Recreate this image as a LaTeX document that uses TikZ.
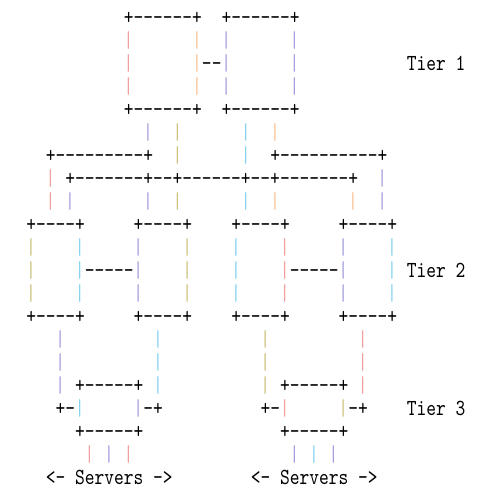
\documentclass[tikz,border=0pt]{standalone}
\usepackage{fontspec}
\newfontfamily\asciifont{lmmono10-regular.otf}[FakeStretch=0.808]
\tikzstyle{glyph}=[font=\asciifont\fontsize{23}{23}\selectfont, inner sep=0pt, anchor=west, text height=14pt, text depth=0pt]
\tikzstyle{pipe}=[font=\asciifont\fontsize{23}{23}\selectfont, inner sep=0pt, anchor=center, text height=14.1pt, text depth=0pt]
\definecolor{pipepink}{RGB}{240,160,160}
\definecolor{pipeorange}{RGB}{250,195,150}
\definecolor{pipelilac}{RGB}{165,160,220}
\definecolor{pipecyan}{RGB}{135,210,240}
\definecolor{pipeolive}{RGB}{205,195,125}
\newcommand\pipes[3]{\foreach \r in {#3} {\node[pipe, text=#2] (p#1-\r) at (#1,\r) {|};}}

\begin{document}
\begin{tikzpicture}[x=9.76pt, y=-23pt]
            \useasboundingbox (-31pt,17pt) rectangle (465pt,-482pt);

            \node[glyph] (boxAtop) at (9.5,0) {+------+};
            \node[glyph] (boxBtop) at (19.5,0) {+------+};
            \pipes{10}{pipepink}{1,2,3}
            \pipes{17}{pipeorange}{1,2,3}
            \pipes{20}{pipelilac}{1,2,3}
            \pipes{27}{pipelilac}{1,2,3}
            \node[glyph] (linkAB) at (17.5,2) {--};
            \node[glyph] (tier1) at (38.5,2) {Tier 1};
            \node[glyph] (boxAbot) at (9.5,4) {+------+};
            \node[glyph] (boxBbot) at (19.5,4) {+------+};

            \pipes{12}{pipelilac}{5,8}
            \pipes{15}{pipeolive}{5,6,8}
            \pipes{22}{pipecyan}{5,6,8}
            \pipes{25}{pipeorange}{5,8}
            \node[glyph] (busL) at (1.5,6) {+---------+};
            \node[glyph] (busR) at (24.5,6) {+----------+};
            \pipes{2}{pipepink}{7,8}
            \node[glyph] (bus) at (3.5,7) {+-------+--+------+--+-------+};
            \pipes{36}{pipelilac}{7,8}
            \pipes{4}{pipelilac}{8}
            \pipes{33}{pipeorange}{8}

            \node[glyph] (boxCtop) at (-0.5,9) {+----+};
            \node[glyph] (boxDtop) at (10.5,9) {+----+};
            \node[glyph] (boxEtop) at (20.5,9) {+----+};
            \node[glyph] (boxFtop) at (31.5,9) {+----+};
            \pipes{0}{pipeolive}{10,11,12}
            \pipes{5}{pipecyan}{10,11,12}
            \pipes{11}{pipelilac}{10,11,12}
            \pipes{16}{pipeolive}{10,11,12}
            \pipes{21}{pipecyan}{10,11,12}
            \pipes{26}{pipepink}{10,11,12}
            \pipes{32}{pipelilac}{10,11,12}
            \pipes{37}{pipecyan}{10,11,12}
            \node[glyph] (linkCD) at (5.5,11) {-----};
            \node[glyph] (linkEF) at (26.5,11) {-----};
            \node[glyph] (tier2) at (38.5,11) {Tier 2};
            \node[glyph] (boxCbot) at (-0.5,13) {+----+};
            \node[glyph] (boxDbot) at (10.5,13) {+----+};
            \node[glyph] (boxEbot) at (20.5,13) {+----+};
            \node[glyph] (boxFbot) at (31.5,13) {+----+};

            \pipes{3}{pipelilac}{14,15,16}
            \pipes{13}{pipecyan}{14,15,16}
            \pipes{24}{pipeolive}{14,15,16}
            \pipes{34}{pipepink}{14,15,16}
            \node[glyph] (boxGtop) at (4.5,16) {+-----+};
            \node[glyph] (boxHtop) at (25.5,16) {+-----+};
            \node[glyph] (stubGl) at (2.5,17) {+-};
            \pipes{5}{pipecyan}{17}
            \pipes{11}{pipelilac}{17}
            \node[glyph] (stubGr) at (11.5,17) {-+};
            \node[glyph] (stubHl) at (23.5,17) {+-};
            \pipes{26}{pipepink}{17}
            \pipes{32}{pipeolive}{17}
            \node[glyph] (stubHr) at (32.5,17) {-+};
            \node[glyph] (tier3) at (38.5,17) {Tier 3};
            \node[glyph] (boxGbot) at (4.5,18) {+-----+};
            \node[glyph] (boxHbot) at (25.5,18) {+-----+};

            \pipes{6}{pipepink}{19}
            \pipes{8}{pipelilac}{19}
            \pipes{10}{pipepink}{19}
            \pipes{27}{pipelilac}{19}
            \pipes{29}{pipecyan}{19}
            \pipes{31}{pipelilac}{19}
            \node[glyph] (serversG) at (1.5,20) {<- Servers ->};
            \node[glyph] (serversH) at (22.5,20) {<- Servers ->};
\end{tikzpicture}
\end{document}
